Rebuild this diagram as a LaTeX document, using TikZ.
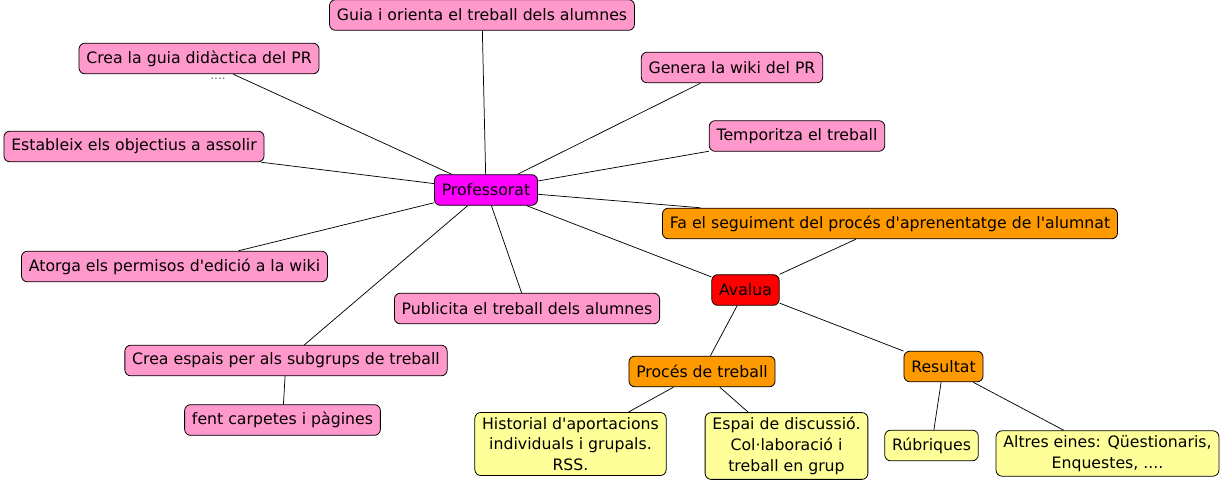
\documentclass[tikz,border=0pt]{standalone}
\usepackage{fontspec}
\setmainfont{DejaVu Sans}
\usetikzlibrary{positioning}

\definecolor{rosa}{RGB}{255,153,204}
\definecolor{magenta2}{RGB}{255,0,255}
\definecolor{vermell}{RGB}{255,0,0}
\definecolor{taronja}{RGB}{255,153,0}
\definecolor{groc}{RGB}{255,255,153}
\newcommand{\apos}{\textquotesingle}

\begin{document}
\begin{tikzpicture}[x=0.75pt, y=-0.75pt,
  every node/.style={font=\fontsize{11.8}{15.6}\selectfont},
  conceptbox/.style={draw, line width=0.6pt, rounded corners=4.5pt, align=center, inner xsep=5.5pt, minimum height=23pt},
  pinkbox/.style={conceptbox, fill=rosa},
  rootbox/.style={conceptbox, fill=magenta2},
  redbox/.style={conceptbox, fill=vermell},
  orangebox/.style={conceptbox, fill=taronja},
  yellowbox/.style={conceptbox, fill=groc, inner ysep=3.5pt},
  link/.style={draw, line width=0.55pt}
]
\useasboundingbox (0,0) rectangle (1225,485);

\node[rootbox] (prof) at (486,190) {Professorat};

\node[pinkbox] (guia) at (482,15) {Guia i orienta el treball dels alumnes};
\node[pinkbox] (creaGuia) at (199,58.5) {Crea la guia didàctica del PR};
\node[font=\fontsize{9}{9}\selectfont, text=black!60, inner sep=0pt] (guiaDots) at (218,79) {....};
\node[pinkbox] (estableix) at (134,146.5) {Estableix els objectius a assolir};
\node[pinkbox] (genera) at (732,67.5) {Genera la wiki del PR};
\node[pinkbox] (temporitza) at (797,136) {Temporitza el treball};
\node[pinkbox] (atorga) at (174.5,266.5) {Atorga els permisos d\apos edició a la wiki};
\node[pinkbox] (publicita) at (527,308.5) {Publicita el treball dels alumnes};
\node[pinkbox] (espais) at (286,360.5) {Crea espais per als subgrups de treball};
\node[pinkbox] (carpetes) at (282.5,420) {fent carpetes i pàgines};

\node[orangebox] (seguiment) at (890,223.5) {Fa el seguiment del procés d\apos aprenentatge de l\apos alumnat};
\node[redbox] (avalua) at (745.5,290) {Avalua};
\node[orangebox] (proces) at (702,371.5) {Procés de treball};
\node[orangebox] (resultat) at (943.5,366.5) {Resultat};

\node[yellowbox] (historial) at (570.5,444) {Historial d\apos aportacions\\individuals i grupals.\\RSS.};
\node[yellowbox] (espai) at (786.5,446) {Espai de discussió.\\Col·laboració i\\treball en grup};
\node[yellowbox] (rubriques) at (931.5,445.5) {Rúbriques};
\node[yellowbox] (altres) at (1107.5,453.5) {Altres eines: Qüestionaris,\\Enquestes, ....};

\draw[link] (prof) -- (guia);
\draw[link] (prof) -- (creaGuia);
\draw[link] (prof) -- (estableix);
\draw[link] (prof) -- (genera);
\draw[link] (prof) -- (temporitza);
\draw[link] (prof) -- (atorga);
\draw[link] (prof) -- (publicita);
\draw[link] (prof) -- (espais);
\draw[link] (espais) -- (carpetes);
\draw[link] (prof) -- (seguiment);
\draw[link] (prof) -- (avalua);
\draw[link] (avalua) -- (seguiment);
\draw[link] (avalua) -- (proces);
\draw[link] (avalua) -- (resultat);
\draw[link] (proces) -- (historial);
\draw[link] (proces) -- (espai);
\draw[link] (resultat) -- (rubriques);
\draw[link] (resultat) -- (altres);
\end{tikzpicture}
\end{document}
